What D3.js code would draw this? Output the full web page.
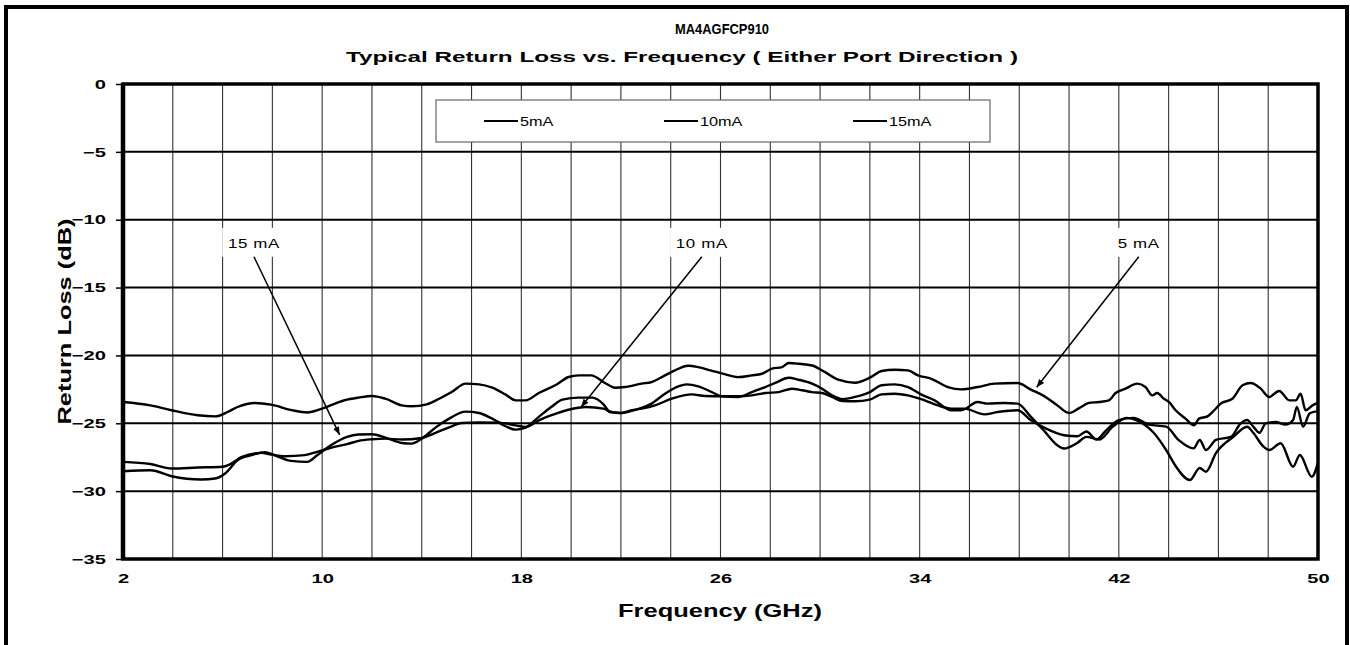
<!DOCTYPE html>
<html>
<head>
<meta charset="utf-8">
<script src="https://cdn.jsdelivr.net/npm/d3@7"></script>
<style>
  body { margin: 0; background: #fff; }
  svg text { font-family: "Liberation Sans", Arial, sans-serif; fill: #000; }
</style>
</head>
<body>
<svg id="chart" width="1350" height="645"></svg>
<script>
// ---- data ----
var freqTicks = [2, 10, 18, 26, 34, 42, 50];
var dbTicks = [0, -5, -10, -15, -20, -25, -30, -35];
var seriesNames = ["5mA", "10mA", "15mA"];

// [GHz, dB]
var rl5mA = [[2.0,-23.43],[3.1,-23.68],[3.95,-24.04],[5.0,-24.41],[5.7,-24.49],[6.2,-24.17],[6.6,-23.8],[7.3,-23.5],
  [7.95,-23.63],[8.8,-24.04],[9.4,-24.2],[10.0,-23.92],[10.9,-23.3],[11.46,-23.11],[12.0,-22.99],[12.54,-23.19],
  [13.2,-23.68],[13.6,-23.75],[14.2,-23.6],[14.7,-23.19],[15.2,-22.7],[15.76,-22.08],[16.3,-22.13],[16.83,-22.38],
  [17.37,-22.89],[17.77,-23.31],[18.17,-23.31],[18.7,-22.77],[19.4,-22.16],[19.9,-21.59],[20.3,-21.47],[20.8,-21.47],
  [21.36,-22.03],[21.76,-22.38],[22.16,-22.33],[22.83,-22.08],[23.23,-21.96],[23.77,-21.47],[24.17,-21.1],[24.7,-20.76],
  [25.1,-20.86],[25.6,-21.1],[26.2,-21.4],[26.7,-21.6],[27.26,-21.47],[27.66,-21.35],[28.07,-20.98],[28.47,-20.86],
  [28.74,-20.56],[29.14,-20.61],[29.68,-20.74],[30.2,-21.23],[30.73,-21.79],[31.4,-22.01],[32.0,-21.64],[32.47,-21.15],
  [33.0,-21.05],[33.53,-21.1],[33.93,-21.47],[34.47,-21.72],[35.13,-22.33],[35.67,-22.5],[36.33,-22.33],[37.0,-22.08],
  [37.93,-22.03],[38.47,-22.52],[39.0,-23.0],[39.53,-23.68],[40.0,-24.24],[40.39,-23.9],[40.8,-23.5],[41.2,-23.43],
  [41.6,-23.31],[41.87,-22.77],[42.27,-22.45],[42.74,-22.08],[43.07,-22.33],[43.34,-22.94],[43.54,-22.77],[43.81,-23.19],
  [44.01,-23.43],[44.28,-24.04],[44.68,-24.66],[45.02,-25.15],[45.22,-24.66],[45.56,-24.49],[45.83,-24.04],[46.09,-23.55],
  [46.56,-23.19],[46.97,-22.2],[47.3,-22.03],[47.7,-22.45],[48.04,-23.06],[48.44,-22.62],[48.85,-23.31],[49.11,-23.31],
  [49.3,-22.82],[49.5,-24.04],[49.78,-23.68],[50.0,-23.5]];

var rl10mA = [[2.0,-27.84],[3.1,-28.0],[3.95,-28.33],[5.0,-28.26],[6.0,-28.2],[6.35,-27.97],[6.75,-27.5],[7.55,-27.18],
  [7.95,-27.3],[8.5,-27.43],[9.3,-27.35],[9.8,-27.1],[10.35,-26.8],[11.0,-26.54],[11.46,-26.3],[12.0,-26.18],
  [12.54,-26.13],[13.2,-26.2],[14.0,-26.08],[14.55,-25.71],[15.2,-25.22],[15.6,-24.98],[16.3,-24.93],[17.1,-24.95],
  [17.77,-25.15],[18.17,-25.27],[18.7,-24.78],[19.4,-24.29],[19.9,-24.0],[20.6,-23.8],[21.3,-23.92],[21.62,-24.17],
  [22.03,-24.24],[22.43,-24.04],[22.83,-23.92],[23.37,-23.68],[24.04,-23.19],[24.85,-22.87],[25.38,-22.99],[26.05,-23.01],
  [26.72,-23.01],[27.26,-22.94],[27.8,-22.77],[28.34,-22.7],[28.87,-22.45],[29.28,-22.57],[29.68,-22.7],[30.08,-22.77],
  [30.48,-23.06],[30.91,-23.36],[31.4,-23.38],[32.0,-23.26],[32.47,-22.87],[33.0,-22.82],[33.53,-22.94],[34.2,-23.31],
  [34.73,-23.68],[35.27,-23.92],[35.8,-23.92],[36.6,-24.34],[37.13,-24.17],[37.93,-24.04],[38.47,-24.78],[39.0,-25.32],
  [39.8,-25.88],[40.33,-25.96],[40.7,-25.6],[41.1,-26.2],[41.5,-25.5],[42.0,-24.76],[42.6,-24.6],[43.2,-25.1],
  [43.9,-25.25],[44.4,-26.23],[45.0,-26.85],[45.25,-26.23],[45.5,-26.97],[45.9,-26.23],[46.5,-26.0],[46.9,-25.0],
  [47.15,-24.76],[47.4,-25.25],[47.65,-25.7],[47.9,-25.0],[48.3,-24.9],[48.7,-25.1],[49.0,-24.76],[49.15,-23.8],
  [49.4,-25.25],[49.67,-24.26],[50.0,-24.1]];

var rl15mA = [[2.0,-28.53],[3.1,-28.46],[3.95,-28.9],[5.15,-29.14],[5.7,-29.07],[6.1,-28.7],[6.6,-27.72],[7.15,-27.35],
  [7.7,-27.13],[8.2,-27.43],[8.75,-27.77],[9.4,-27.84],[9.8,-27.35],[10.35,-26.62],[11.0,-26.0],[11.46,-25.83],
  [12.0,-25.81],[12.54,-26.05],[13.2,-26.45],[13.6,-26.5],[14.0,-26.13],[14.55,-25.32],[15.1,-24.66],[15.76,-24.14],
  [16.3,-24.24],[16.83,-24.66],[17.37,-25.22],[17.77,-25.47],[18.17,-25.32],[18.7,-24.53],[19.2,-23.8],[19.65,-23.26],
  [20.3,-23.11],[20.85,-23.11],[21.3,-23.6],[21.56,-24.17],[22.03,-24.24],[22.43,-24.09],[22.83,-23.87],[23.23,-23.55],
  [23.77,-22.82],[24.31,-22.28],[24.64,-22.13],[25.11,-22.28],[25.65,-22.7],[26.05,-23.01],[26.72,-23.06],[27.26,-22.7],
  [27.8,-22.33],[28.2,-22.03],[28.74,-21.64],[29.14,-21.79],[29.68,-22.08],[30.08,-22.45],[30.48,-22.94],[30.91,-23.22],
  [31.4,-23.06],[32.0,-22.7],[32.47,-22.2],[33.0,-22.13],[33.53,-22.33],[34.07,-22.89],[34.6,-23.31],[35.27,-24.04],
  [35.67,-24.04],[36.33,-23.43],[36.73,-23.55],[37.4,-23.5],[37.93,-23.55],[38.47,-24.53],[39.0,-25.56],[39.53,-26.62],
  [39.8,-26.86],[40.33,-26.45],[40.7,-26.0],[41.2,-26.2],[41.76,-25.25],[42.3,-24.6],[42.7,-24.76],[43.4,-25.7],
  [43.9,-26.97],[44.3,-28.2],[44.85,-29.18],[45.25,-28.3],[45.5,-28.57],[45.9,-27.2],[46.6,-26.0],[47.15,-25.25],
  [47.4,-25.7],[47.8,-26.7],[48.05,-26.97],[48.5,-26.47],[49.0,-28.2],[49.27,-27.34],[49.75,-28.94],[50.0,-27.9]];

// callout labels: label centre and arrow tip, in GHz / dB
var callouts = [
  { text: "15 mA", fx: 7.26,  fy: -11.7, tipX: 10.7, tipY: -25.85 },
  { text: "10 mA", fx: 25.25, fy: -11.7, tipX: 20.4, tipY: -23.8 },
  { text: "5 mA",  fx: 42.8,  fy: -11.7, tipX: 38.7, tipY: -22.35 }
];

(function drawChart() {
  var svg = d3.select("#chart");
  var plotL = 123, plotR = 1318, plotT = 84, plotB = 559;
  var stretch = 1.55; // the datasheet text is horizontally stretched

  var x = d3.scaleLinear().domain([2, 50]).range([plotL, plotR]);
  var y = d3.scaleLinear().domain([-35, 0]).range([plotB, plotT]);

  // outer frame (runs off the bottom of the page)
  svg.append("rect")
    .attr("x", 6).attr("y", 7)
    .attr("width", 1341).attr("height", 700)
    .attr("fill", "none").attr("stroke", "#000").attr("stroke-width", 4);

  // titles
  function wideText(str, cx, cy, size, width) {
    return svg.append("text")
      .attr("x", cx - width / 2).attr("y", cy)
      .attr("textLength", width).attr("lengthAdjust", "spacingAndGlyphs")
      .style("font-size", size + "px").style("font-weight", "bold")
      .text(str);
  }
  wideText("MA4AGFCP910", 722, 34, 14, 94);
  wideText("Typical  Return  Loss vs. Frequency ( Either Port Direction )", 682, 62, 15, 672);
  wideText("Frequency (GHz)", 720, 617, 19, 204);

  svg.append("text")
    .attr("transform", "translate(71," + ((plotT + plotB) / 2) + ") rotate(-90)")
    .attr("x", -103).attr("y", 0)
    .attr("textLength", 206).attr("lengthAdjust", "spacingAndGlyphs")
    .style("font-size", "18px").style("font-weight", "bold")
    .text("Return Loss (dB)");

  // grid
  var plot = svg.append("g");
  plot.selectAll(".vgrid")
    .data(d3.range(4, 50, 2))
    .enter().append("line")
    .attr("class", "vgrid")
    .attr("x1", function(d) { return x(d); }).attr("x2", function(d) { return x(d); })
    .attr("y1", plotT).attr("y2", plotB)
    .attr("stroke", "#333").attr("stroke-width", 1.1);

  plot.selectAll(".hgrid")
    .data(dbTicks.slice(1, -1))
    .enter().append("line")
    .attr("class", "hgrid")
    .attr("x1", plotL).attr("x2", plotR)
    .attr("y1", function(d) { return y(d); }).attr("y2", function(d) { return y(d); })
    .attr("stroke", "#000").attr("stroke-width", 2);

  // callout label backgrounds blank out the grid behind them
  callouts.forEach(function(c) {
    var w = c.text.length * 7.5 + 26;
    plot.append("rect")
      .attr("x", x(c.fx) - w / 2).attr("y", y(c.fy) - 15)
      .attr("width", w).attr("height", 29)
      .attr("fill", "#fff");
  });

  // axes
  var yAxis = svg.append("g")
    .attr("transform", "translate(" + plotL + ",0)")
    .call(d3.axisLeft(y).tickValues(dbTicks).tickSize(7).tickPadding(10).tickFormat(d3.format("d")));
  var xAxis = svg.append("g")
    .attr("transform", "translate(0," + plotB + ")")
    .call(d3.axisBottom(x).tickValues(freqTicks).tickSize(0).tickPadding(15));

  [yAxis, xAxis].forEach(function(a) {
    a.select(".domain").remove();
    a.selectAll(".tick line").attr("stroke", "#000").attr("stroke-width", 1.5);
    a.selectAll("text")
      .style("font-size", "13px").style("font-weight", "bold")
      .style("font-family", "'Liberation Sans', Arial, sans-serif");
  });
  yAxis.selectAll("text")
    .attr("x", -17 / stretch)
    .attr("transform", "scale(" + stretch + ",1)");
  xAxis.selectAll("text")
    .attr("transform", "scale(" + stretch + ",1)");

  // plot frame
  svg.append("rect")
    .attr("x", plotL).attr("y", plotT)
    .attr("width", plotR - plotL).attr("height", plotB - plotT)
    .attr("fill", "none").attr("stroke", "#000").attr("stroke-width", 3.5);
  svg.append("line")
    .attr("x1", plotL).attr("x2", plotL).attr("y1", plotT - 1).attr("y2", plotB + 1)
    .attr("stroke", "#000").attr("stroke-width", 4.5);

  // curves
  var line = d3.line()
    .x(function(d) { return x(d[0]); })
    .y(function(d) { return y(d[1]); })
    .curve(d3.curveMonotoneX);

  svg.selectAll(".curve")
    .data([rl5mA, rl10mA, rl15mA])
    .enter().append("path")
    .attr("class", "curve")
    .attr("d", line)
    .attr("fill", "none")
    .attr("stroke", "#000")
    .attr("stroke-width", 2.4)
    .attr("stroke-linejoin", "round");

  // legend
  var legend = svg.append("g");
  legend.append("rect")
    .attr("x", 436).attr("y", 100).attr("width", 554).attr("height", 42)
    .attr("fill", "#fff").attr("stroke", "#666").attr("stroke-width", 1.2);
  var legendX = [484, 664, 853];
  seriesNames.forEach(function(name, i) {
    legend.append("line")
      .attr("x1", legendX[i]).attr("x2", legendX[i] + 34)
      .attr("y1", 121).attr("y2", 121)
      .attr("stroke", "#000").attr("stroke-width", 1.8);
    legend.append("text")
      .attr("x", (legendX[i] + 36) / 1.25).attr("y", 126)
      .attr("transform", "scale(1.25,1)")
      .style("font-size", "13px")
      .text(name);
  });

  // callout arrows and labels
  svg.append("defs").append("marker")
    .attr("id", "arrow")
    .attr("viewBox", "0 0 10 10")
    .attr("refX", 10).attr("refY", 5)
    .attr("markerWidth", 8).attr("markerHeight", 8)
    .attr("markerUnits", "userSpaceOnUse")
    .attr("orient", "auto")
    .append("path").attr("d", "M0,1 L10,5 L0,9 Z").attr("fill", "#000");

  callouts.forEach(function(c) {
    svg.append("line")
      .attr("x1", x(c.fx)).attr("y1", y(c.fy) + 14)
      .attr("x2", x(c.tipX)).attr("y2", y(c.tipY))
      .attr("stroke", "#000").attr("stroke-width", 1.5)
      .attr("marker-end", "url(#arrow)");
    svg.append("text")
      .attr("x", x(c.fx) / 1.3).attr("y", y(c.fy) + 5)
      .attr("transform", "scale(1.3,1)")
      .attr("text-anchor", "middle")
      .style("font-size", "13px")
      .style("letter-spacing", "0.5px")
      .text(c.text);
  });
})();
</script>
</body>
</html>
